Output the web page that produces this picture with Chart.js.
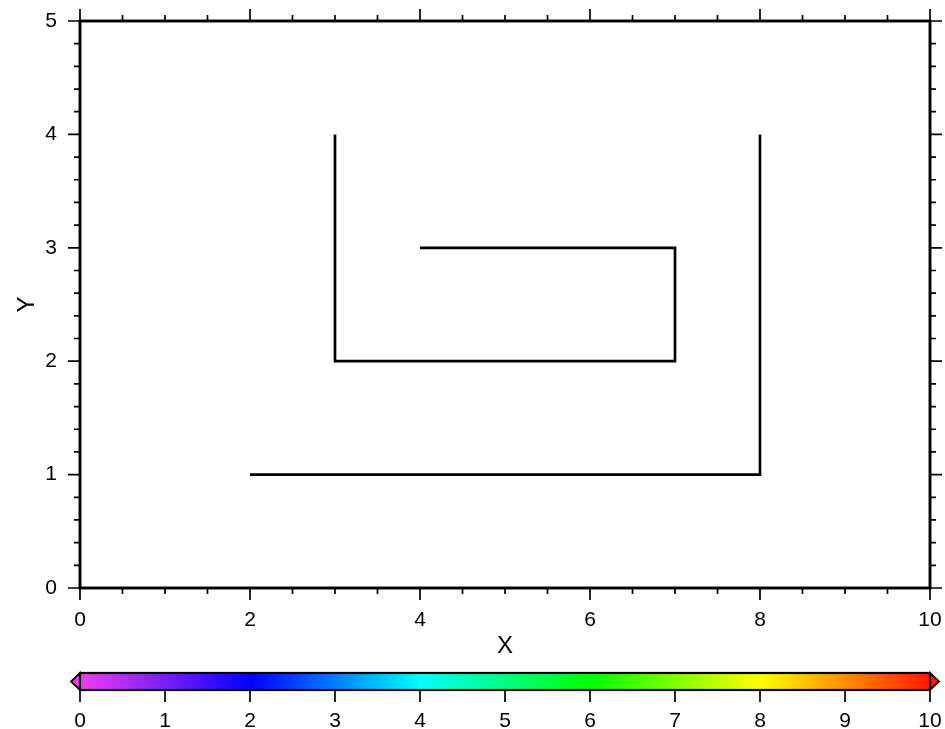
<!DOCTYPE html>
<html>
<head>
<meta charset="utf-8">
<script src="https://cdn.jsdelivr.net/npm/chart.js@4/dist/chart.umd.min.js"></script>
<style>
html,body{margin:0;padding:0;background:#fff;}
canvas{display:block;}
</style>
</head>
<body>
<canvas id="c" width="945" height="729"></canvas>
<script>
// Data
const line1X = [3, 3, 7, 7, 4];
const line1Y = [4, 2, 2, 3, 3];
const line2X = [8, 8, 2];
const line2Y = [4, 1, 1];
const xTickLabels = [0, 2, 4, 6, 8, 10];
const yTickLabels = [0, 1, 2, 3, 4, 5];
const cbTickLabels = [0, 1, 2, 3, 4, 5, 6, 7, 8, 9, 10];
const cbStopValues = [0, 2, 4, 6, 8, 10];
const cbStopColors = ['#f23cf2', '#0000ff', '#00ffff', '#00ff00', '#ffff00', '#ff1a00'];

const FONT = '"Liberation Sans", Arial, Helvetica, sans-serif';

function toPts(xs, ys) { return xs.map((x, i) => ({x: x, y: ys[i]})); }

const framePlugin = {
  id: 'frameTicks',
  afterDraw(chart) {
    const ctx = chart.ctx;
    const xs = chart.scales.x, ys = chart.scales.y;
    const a = chart.chartArea;
    ctx.save();
    ctx.strokeStyle = '#000';
    ctx.lineWidth = 1.7;
    ctx.beginPath();
    for (let i = 0; i <= 20; i++) {
      const v = i * 0.5;
      const px = xs.getPixelForValue(v);
      const len = (i % 4 === 0) ? 12 : 6;
      ctx.moveTo(px, a.bottom); ctx.lineTo(px, a.bottom + len);
      ctx.moveTo(px, a.top); ctx.lineTo(px, a.top - len);
    }
    for (let i = 0; i <= 25; i++) {
      const v = i * 0.2;
      const py = ys.getPixelForValue(v);
      const len = (i % 5 === 0) ? 12 : 6;
      ctx.moveTo(a.left, py); ctx.lineTo(a.left - len, py);
      ctx.moveTo(a.right, py); ctx.lineTo(a.right + len, py);
    }
    ctx.stroke();
    ctx.lineWidth = 2.9;
    ctx.strokeRect(a.left, a.top, a.right - a.left, a.bottom - a.top);

    // colorbar
    const x0 = xs.getPixelForValue(cbTickLabels[0]);
    const x1 = xs.getPixelForValue(cbTickLabels[cbTickLabels.length - 1]);
    const top = 673, bot = 690, mid = (top + bot) / 2, tri = 9;
    const grad = ctx.createLinearGradient(x0, 0, x1, 0);
    cbStopValues.forEach((v, i) => {
      grad.addColorStop((v - cbStopValues[0]) / (cbStopValues[cbStopValues.length - 1] - cbStopValues[0]), cbStopColors[i]);
    });
    ctx.fillStyle = grad;
    ctx.fillRect(x0, top, x1 - x0, bot - top);
    ctx.lineWidth = 1.8;
    ctx.fillStyle = cbStopColors[0];
    ctx.beginPath();
    ctx.moveTo(x0, top); ctx.lineTo(x0 - tri, mid); ctx.lineTo(x0, bot); ctx.closePath();
    ctx.fill(); ctx.stroke();
    ctx.fillStyle = cbStopColors[cbStopColors.length - 1];
    ctx.beginPath();
    ctx.moveTo(x1, top); ctx.lineTo(x1 + tri, mid); ctx.lineTo(x1, bot); ctx.closePath();
    ctx.fill(); ctx.stroke();
    ctx.lineWidth = 2.2;
    ctx.strokeRect(x0, top, x1 - x0, bot - top);
    ctx.lineWidth = 1.7;
    ctx.beginPath();
    cbTickLabels.forEach(v => {
      const px = xs.getPixelForValue(v);
      ctx.moveTo(px, bot); ctx.lineTo(px, bot + 12);
    });
    ctx.stroke();
    ctx.fillStyle = '#000';
    ctx.font = '21px ' + FONT;
    ctx.textAlign = 'center';
    ctx.textBaseline = 'middle';
    cbTickLabels.forEach(v => {
      ctx.fillText(String(v), xs.getPixelForValue(v), 721);
    });
    ctx.restore();
  }
};

const commonTickFont = {family: FONT, size: 21};
function zeroPad(s) { s.paddingLeft = 0; s.paddingRight = 0; s.paddingTop = 0; s.paddingBottom = 0; }

new Chart(document.getElementById('c'), {
  type: 'scatter',
  data: {
    datasets: [
      {data: toPts(line1X, line1Y), showLine: true, borderColor: '#000', borderWidth: 2.7, pointRadius: 0, tension: 0, fill: false},
      {data: toPts(line2X, line2Y), showLine: true, borderColor: '#000', borderWidth: 2.7, pointRadius: 0, tension: 0, fill: false}
    ]
  },
  options: {
    responsive: false,
    animation: false,
    layout: {padding: 0, autoPadding: false},
    plugins: {legend: {display: false}, tooltip: {enabled: false}},
    scales: {
      x: {
        type: 'linear', position: 'bottom', min: 0, max: 10,
        afterBuildTicks: s => { s.ticks = xTickLabels.map(v => ({value: v})); },
        ticks: {font: commonTickFont, color: '#000', padding: 20, maxRotation: 0},
        grid: {display: false, drawTicks: false},
        border: {display: false},
        title: {display: true, text: 'X', font: {family: FONT, size: 24}, color: '#000', padding: {top: 0, bottom: 68}},
        afterFit: s => { s.height = 141; zeroPad(s); }
      },
      x2: {
        type: 'linear', position: 'top', min: 0, max: 10,
        ticks: {display: false},
        grid: {display: false, drawTicks: false},
        border: {display: false},
        afterFit: s => { s.height = 21; zeroPad(s); }
      },
      y: {
        type: 'linear', position: 'left', min: 0, max: 5,
        afterBuildTicks: s => { s.ticks = yTickLabels.map(v => ({value: v})); },
        ticks: {font: commonTickFont, color: '#000', padding: 23},
        grid: {display: false, drawTicks: false},
        border: {display: false},
        title: {display: true, text: 'Y', font: {family: FONT, size: 24}, color: '#000', padding: {top: 13, bottom: 0}},
        afterFit: s => { s.width = 80; zeroPad(s); }
      },
      y2: {
        type: 'linear', position: 'right', min: 0, max: 5,
        ticks: {display: false},
        grid: {display: false, drawTicks: false},
        border: {display: false},
        afterFit: s => { s.width = 15; zeroPad(s); }
      }
    }
  },
  plugins: [framePlugin]
});
</script>
</body>
</html>
